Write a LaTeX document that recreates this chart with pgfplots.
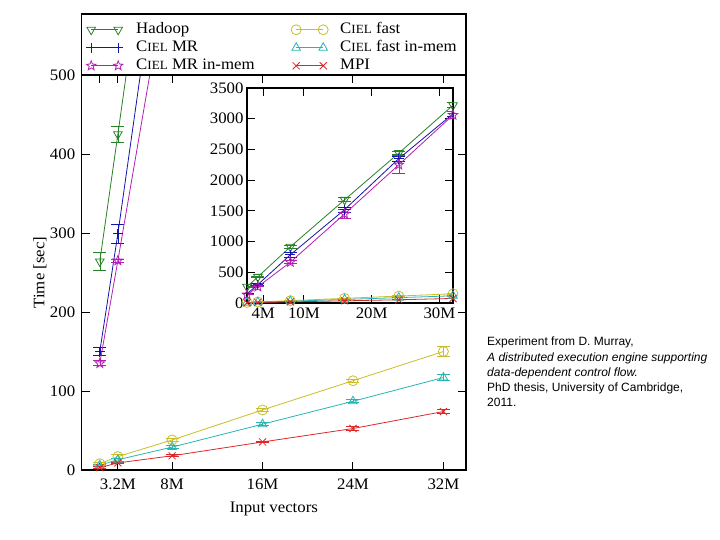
\documentclass[border=0pt]{standalone}
\usepackage{pgfplots}
\usepackage{pgfplotstable}
\pgfplotsset{compat=1.18}
\usepackage{fontspec}
\setmainfont{Liberation Serif}[FakeStretch=1.05]
\newfontfamily\annfont{Liberation Sans}
\definecolor{cgreen}{RGB}{40,130,40}
\definecolor{cblue}{RGB}{20,20,170}
\definecolor{cmag}{RGB}{180,30,180}
\definecolor{cyel}{RGB}{200,190,40}
\definecolor{ccyan}{RGB}{40,180,180}
\definecolor{cred}{RGB}{220,40,40}
\newcommand{\mainfs}{\fontsize{16bp}{19bp}\selectfont}
\newcommand{\ciel}{C{\fontsize{12.5bp}{12.5bp}\selectfont IEL}}
\pgfdeclareplotmark{ostar}{%
  \pgfpathmoveto{\pgfpointpolar{90}{\pgfplotmarksize}}%
  \pgfpathlineto{\pgfpointpolar{126}{0.42\pgfplotmarksize}}%
  \pgfpathlineto{\pgfpointpolar{162}{\pgfplotmarksize}}%
  \pgfpathlineto{\pgfpointpolar{198}{0.42\pgfplotmarksize}}%
  \pgfpathlineto{\pgfpointpolar{234}{\pgfplotmarksize}}%
  \pgfpathlineto{\pgfpointpolar{270}{0.42\pgfplotmarksize}}%
  \pgfpathlineto{\pgfpointpolar{306}{\pgfplotmarksize}}%
  \pgfpathlineto{\pgfpointpolar{342}{0.42\pgfplotmarksize}}%
  \pgfpathlineto{\pgfpointpolar{18}{\pgfplotmarksize}}%
  \pgfpathlineto{\pgfpointpolar{54}{0.42\pgfplotmarksize}}%
  \pgfpathclose
  \pgfusepathqstroke
}
\pgfplotstableread{
x y e
1.6 264 11
3.2 425 10
8 915 25
16 1680 30
24 2440 30
32 3220 40
}\hadoop
\pgfplotstableread{
x y e
1.6 150 5
3.2 299 12
8 785 40
16 1520 40
24 2350 40
32 3080 40
}\cielmr
\pgfplotstableread{
x y e
1.6 135 3
3.2 265 2
8 665 30
16 1450 70
24 2250 150
32 3060 50
}\cielmrmem
\pgfplotstableread{
x y e
1.6 8 2
3.2 17 2
8 38 2
16 76 2
24 113 2
32 150 6
}\cielfast
\pgfplotstableread{
x y e
1.6 6 1
3.2 13 2
8 29 2
16 58 2
24 87 2
32 117 4
}\cielfastmem
\pgfplotstableread{
x y e
1.6 3 1
3.2 9 1
8 18 1
16 35.5 1
24 52.5 2
32 74 2
}\mpi
\pgfplotsset{
  ser/.style={line width=0.8bp, mark size=5bp, mark options={solid, line width=0.8bp},
    error bars/y dir=both, error bars/y explicit,
    error bars/error mark options={rotate=90, mark size=6.5bp, line width=1bp}},
  sHadoop/.style={ser, color=cgreen, mark=triangle, mark options={rotate=180}},
  sMR/.style={ser, color=cblue, mark=+},
  sMRmem/.style={ser, color=cmag, mark=ostar},
  sFast/.style={ser, color=cyel, mark=o},
  sFastmem/.style={ser, color=ccyan, mark=triangle},
  sMPI/.style={ser, color=cred, mark=x},
}
\begin{document}
\begin{tikzpicture}
\useasboundingbox (0bp,0bp) rectangle (720bp,540bp);
\begin{axis}[
  at={(81.7bp,70bp)}, anchor=south west, scale only axis,
  width=384.3bp, height=395bp,
  xmin=0, xmax=34, ymin=0, ymax=500,
  xtick={1.6,3.2,8,16,24,32}, xticklabels={,3.2M,8M,16M,24M,32M},
  ytick={0,100,200,300,400,500},
  tick align=inside, major tick length=8bp,
  axis line style={line width=1.2bp},
  every tick/.style={black, line width=1bp},
  /pgf/number format/assume math mode=true,
  /pgf/number format/1000 sep={},
  tick label style={font=\mainfs},
  xticklabel style={yshift=-5bp},
  yticklabel style={xshift=-3bp},
  xlabel={Input vectors}, ylabel={Time [sec]},
  label style={font=\mainfs},
  xlabel style={at={(axis description cs:0.5,-0.098)}, anchor=center},
  ylabel style={at={(axis description cs:-0.1085,0.5)}, anchor=center},
  legend columns=2,
  legend cell align=left,
  legend style={at={(axis description cs:0.0112,1.134)}, anchor=north west,
    draw=none, fill=none, inner sep=0pt, row sep=3bp, column sep=0pt,
    font=\mainfs,
    nodes={inner sep=0pt, text height=11bp, text depth=4bp}},
  legend image code/.code={\draw[#1] plot coordinates {(0bp,0bp) (27bp,0bp)};},
]
\addplot[sHadoop] table[x=x,y=y,y error=e] {\hadoop};
\addlegendentry{\makebox[168bp][l]{\hspace{13bp}Hadoop}}
\addplot[sFast] table[x=x,y=y,y error=e] {\cielfast};
\addlegendentry{\hspace{12bp}\ciel{} fast}
\addplot[sMR] table[x=x,y=y,y error=e] {\cielmr};
\addlegendentry{\makebox[168bp][l]{\hspace{13bp}\ciel{} MR}}
\addplot[sFastmem] table[x=x,y=y,y error=e] {\cielfastmem};
\addlegendentry{\hspace{12bp}\ciel{} fast in-mem}
\addplot[sMRmem] table[x=x,y=y,y error=e] {\cielmrmem};
\addlegendentry{\makebox[168bp][l]{\hspace{13bp}\ciel{} MR in-mem}}
\addplot[sMPI] table[x=x,y=y,y error=e] {\mpi};
\addlegendentry{\hspace{12bp}MPI}
\end{axis}
\draw[line width=1.2bp] (81.7bp,465bp) rectangle (466bp,526bp);
\begin{axis}[
  at={(247bp,237bp)}, anchor=south west, scale only axis,
  width=206bp, height=215bp,
  xmin=1.6, xmax=32, ymin=0, ymax=3500,
  xtick={4,10,20,30}, xticklabels={4M,10M,20M,30M},
  ytick={0,500,1000,1500,2000,2500,3000,3500},
  tick align=inside, major tick length=8bp,
  axis line style={line width=1.6bp},
  every tick/.style={black, line width=1bp},
  axis background/.style={fill=white},
  /pgf/number format/assume math mode=true,
  /pgf/number format/1000 sep={},
  tick label style={font=\mainfs},
  xticklabel style={yshift=-1bp},
]
\addplot[sHadoop] table[x=x,y=y,y error=e] {\hadoop};
\addplot[sFast] table[x=x,y=y,y error=e] {\cielfast};
\addplot[sMR] table[x=x,y=y,y error=e] {\cielmr};
\addplot[sFastmem] table[x=x,y=y,y error=e] {\cielfastmem};
\addplot[sMRmem] table[x=x,y=y,y error=e] {\cielmrmem};
\addplot[sMPI] table[x=x,y=y,y error=e] {\mpi};
\end{axis}
\node[anchor=north west, align=left, inner sep=0pt,
  font=\annfont\fontsize{12bp}{15.25bp}\selectfont] at (487bp,203bp)
  {Experiment from D. Murray,\\
   \textit{A distributed execution engine supporting}\\
   \textit{data-dependent control flow.}\\
   PhD thesis, University of Cambridge,\\
   2011.};
\end{tikzpicture}
\end{document}
